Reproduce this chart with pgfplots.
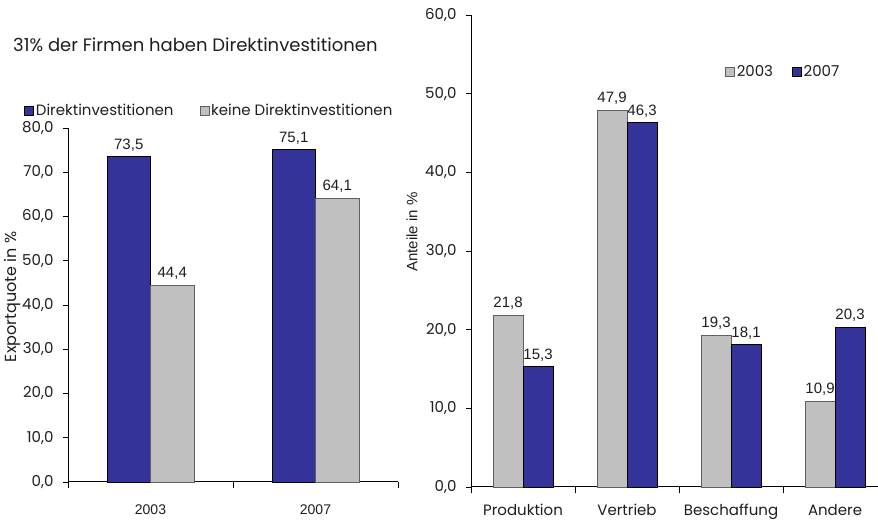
\documentclass[border=0pt]{standalone}
\usepackage{fontspec}
\setmainfont{Poppins}
\newfontfamily\arial{Liberation Sans}
\usepackage{pgfplots}
\pgfplotsset{compat=1.18}
\definecolor{barblue}{RGB}{51,51,153}
\definecolor{bargray}{RGB}{192,192,192}
\definecolor{grayedge}{RGB}{95,95,95}
\definecolor{txt}{RGB}{30,30,30}

\pgfplotsset{
  panel/.style={
    scale only axis,
    anchor=south west,
    ymin=0,
    axis x line*=bottom, axis y line*=left,
    axis line style={-, black, line width=1pt},
    tick align=outside,
    major tick length=5pt,
    minor tick length=6pt,
    tick style={black, line width=0.8pt},
    major x tick style={draw=none},
    ybar=0pt,
    /pgf/number format/.cd, fixed, fixed zerofill, precision=1, use comma, assume math mode=true,
    /pgfplots/.cd,
    ytick distance=10,
    yticklabel style={font=\fontsize{15}{17}\selectfont, text=txt, xshift=-6pt},
    xticklabel style={font=\fontsize{15}{17}\selectfont, text=txt, yshift=-9pt},
    nodes near coords,
    every node near coord/.append style={font=\arial\fontsize{15}{17}\selectfont, text=txt, yshift=2pt},
    legend columns=2,
    legend style={draw=none, fill=none, inner sep=0pt, font=\fontsize{15}{17}\selectfont, text=txt},
    legend image code/.code={\draw[#1, line width=0.6pt] (0pt,-4.5pt) rectangle (9pt,4.5pt);},
    clip=false,
  },
}

\begin{document}
\begin{tikzpicture}[x=1pt,y=1pt]
\useasboundingbox (0,0) rectangle (878,521);
\node[anchor=west, inner sep=0pt, text=txt, font=\fontsize{18}{21}\selectfont] at (13,476) {31\% der Firmen haben Direktinvestitionen};

% Exportquote nach Direktinvestitionen
\begin{axis}[panel,
  at={(68pt,39pt)}, width=330pt, height=354pt,
  xmin=-0.5, xmax=1.5, ymax=80,
  bar width=43.5pt,
  xtick={0,1}, xticklabels={2003,2007},
  xticklabel style={font=\arial\fontsize{14}{16}\selectfont, yshift=-5pt},
  minor xtick={-0.5,0.5,1.5},
  ylabel={Exportquote in \%},
  ylabel style={font=\fontsize{16}{18}\selectfont, text=txt, at={(axis description cs:-0.168,0.523)}, anchor=center},
  legend style={at={(axis description cs:-0.133,1.048)}, anchor=west,
    /tikz/every even column/.append style={column sep=24pt}},
]
\addplot[fill=barblue, draw=black, line width=0.6pt] coordinates {(0,73.5) (1,75.1)};
\addplot[fill=bargray, draw=grayedge, line width=0.6pt] coordinates {(0,44.4) (1,64.1)};
\legend{Direktinvestitionen, keine Direktinvestitionen}
\end{axis}

% Art der Direktinvestitionen
\begin{axis}[panel,
  at={(471pt,34pt)}, width=407pt, height=472pt,
  xmin=-0.5, xmax=3.413, ymax=60,
  bar width=30pt,
  xtick={0,1,2,3}, xticklabels={Produktion,Vertrieb,Beschaffung,Andere},
  minor xtick={-0.5,0.5,1.5,2.5},
  ylabel={Anteile in \%},
  ylabel style={font=\arial\fontsize{15}{17}\selectfont, text=txt, at={(axis description cs:-0.145,0.540)}, anchor=center},
  legend style={at={(axis description cs:0.624,0.879)}, anchor=west,
    /tikz/every even column/.append style={column sep=17pt}},
]
\addplot[fill=bargray, draw=grayedge, line width=0.6pt] coordinates {(0,21.8) (1,47.9) (2,19.3) (3,10.9)};
\addplot[fill=barblue, draw=black, line width=0.6pt] coordinates {(0,15.3) (1,46.3) (2,18.1) (3,20.3)};
\legend{2003, 2007}
\end{axis}
\end{tikzpicture}
\end{document}
